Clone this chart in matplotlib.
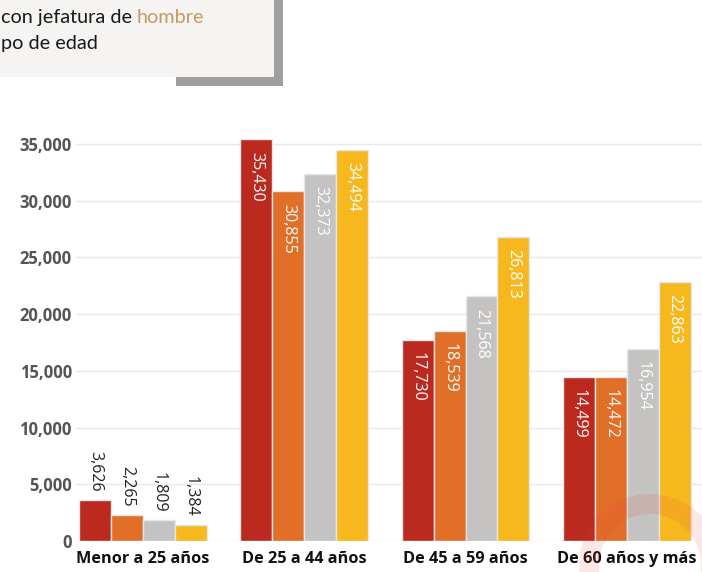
import numpy as np
import matplotlib
matplotlib.use("Agg")
from matplotlib import pyplot as plt
from matplotlib.patches import Rectangle, Wedge
from matplotlib.transforms import IdentityTransform

# datos
categorias = ["Menor a 25 años", "De 25 a 44 años", "De 45 a 59 años", "De 60 años y más"]
serie_1 = [3626, 35430, 17730, 14499]
serie_2 = [2265, 30855, 18539, 14472]
serie_3 = [1809, 32373, 21568, 16954]
serie_4 = [1384, 34494, 26813, 22863]
series = [serie_1, serie_2, serie_3, serie_4]
colores = ["#bb291f", "#e26f28", "#c4c3c1", "#f7b81d"]
yticks = [0, 5000, 10000, 15000, 20000, 25000, 30000, 35000]

W, H = 702, 572
fig = plt.figure(figsize=(W / 100, H / 100), dpi=100)
fig.patch.set_facecolor("white")

# caja del titulo con sombra
fig.patches.append(Rectangle((274 / W, 1 - 86 / H), 9 / W, 86 / H, transform=fig.transFigure,
                             facecolor="#a09f9d", edgecolor="none", zorder=1))
fig.patches.append(Rectangle((176 / W, 1 - 86 / H), 107 / W, 9 / H, transform=fig.transFigure,
                             facecolor="#a09f9d", edgecolor="none", zorder=1))
fig.patches.append(Rectangle((0, 1 - 77 / H), 274 / W, 77 / H, transform=fig.transFigure,
                             facecolor="#f5f4f2", edgecolor="none", zorder=2))
t1 = fig.text(1 / W, 1 - 23 / H, "con jefatura de ", fontsize=14.3, family="Lato",
              color="#1a1a1a", va="baseline", zorder=3)
fig.canvas.draw()
bb = t1.get_window_extent()
fig.text(bb.x1 / W, 1 - 23 / H, "hombre", fontsize=14.3, family="Lato",
         color="#c39a62", va="baseline", zorder=3)
fig.text(1 / W, 1 - 49 / H, "po de edad", fontsize=14.3, family="Lato",
         color="#1a1a1a", va="baseline", zorder=3)

# grafico
ax = fig.add_axes([76 / W, (H - 541) / H, (W - 76) / W, 421 / H])
ymax = 421 / 397 * 35000
ax.set_ylim(0, ymax)
ax.set_xlim(-0.415, 3.466)

x = np.arange(len(categorias))
ancho = 0.198
for i, (vals, c) in enumerate(zip(series, colores)):
    pos = x + (i - 1.5) * ancho
    ax.bar(pos, vals, width=ancho, color=c, edgecolor="#e4e7ee", linewidth=1, zorder=3)
    for px, v in zip(pos, vals):
        etiqueta = f"{v:,}"
        if v < 8000:
            ax.annotate(etiqueta, (px, v), xytext=(0, 6), textcoords="offset points",
                        rotation=-90, ha="center", va="bottom", fontsize=11.5,
                        family="Open Sans", color="#222222", zorder=4)
        else:
            ax.annotate(etiqueta, (px, v), xytext=(0, -9), textcoords="offset points",
                        rotation=-90, ha="center", va="top", fontsize=11.5,
                        family="Open Sans", color="white", zorder=4)

ax.set_yticks(yticks)
ax.set_yticklabels([f"{t:,}" for t in yticks], fontsize=12, fontweight="bold",
                   family="Open Sans", color="#555555")
ax.set_xticks(x)
ax.set_xticklabels(categorias, fontsize=11.7, fontweight="bold", family="Open Sans",
                   color="#111111")
ax.tick_params(axis="both", length=0)
ax.tick_params(axis="y", pad=3)
ax.tick_params(axis="x", pad=7)
ax.grid(axis="y", color="#e9e9e9", linewidth=1, zorder=0)
for s in ax.spines.values():
    s.set_visible(False)

# marca de agua (anillo en pixeles)
anillo = Wedge((650, 7), 71, 0, 360, width=20, transform=IdentityTransform(),
               facecolor="#e8463c", alpha=0.13, edgecolor="none", zorder=10)
fig.patches.append(anillo)

fig.savefig("out.png", dpi=100)
